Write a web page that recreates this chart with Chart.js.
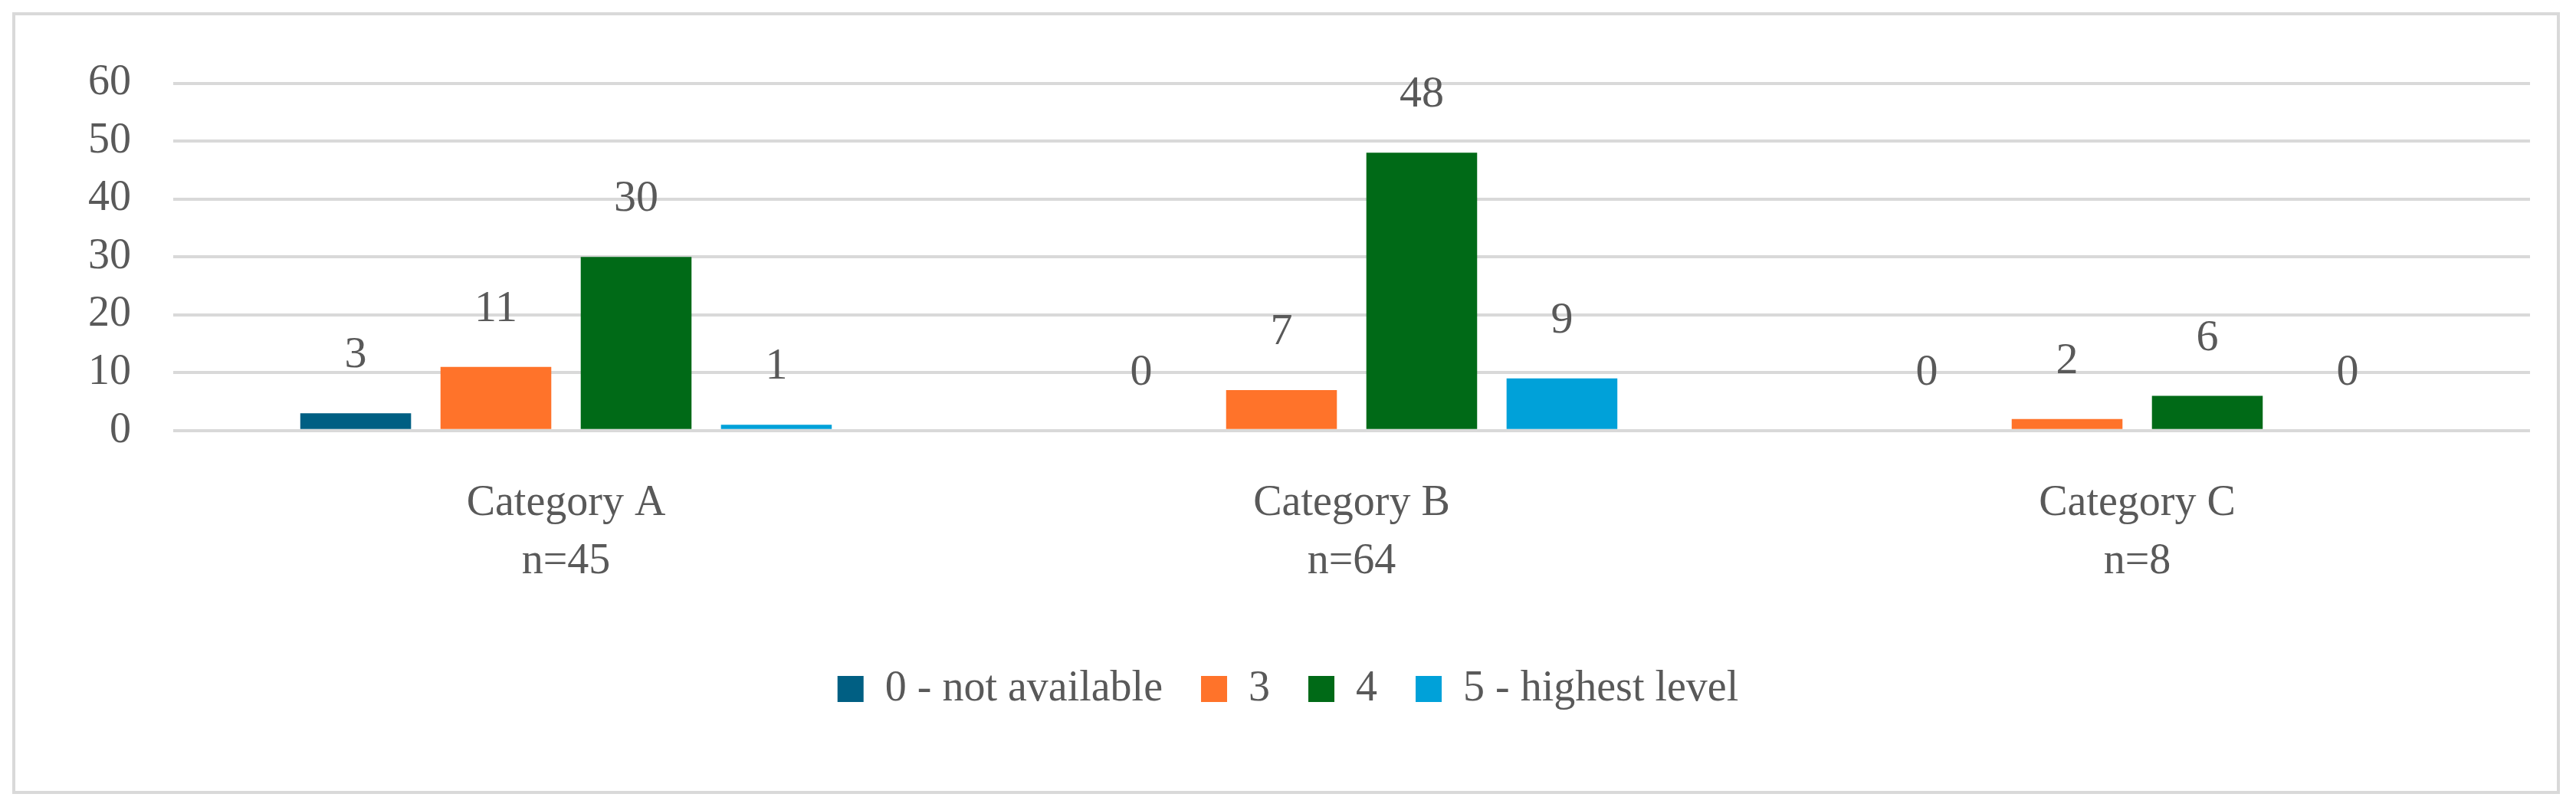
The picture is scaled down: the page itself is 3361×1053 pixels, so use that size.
<!DOCTYPE html>
<html><head><meta charset="utf-8">
<script src="https://cdn.jsdelivr.net/npm/chart.js@4"></script>
<style>
html,body{margin:0;padding:0;background:#fff;width:3361px;height:1053px;overflow:hidden}
#box{position:absolute;left:16px;top:16px;width:3324px;height:1020px;border:4px solid #d9d9d9;box-sizing:border-box}
canvas{position:absolute;left:0;top:0}
</style></head><body>
<div id="box"><canvas id="c" width="3316" height="1012"></canvas></div>
<script>
const categories = [["Category A","n=45"],["Category B","n=64"],["Category C","n=8"]];
const seriesNames = ["0 - not available","3","4","5 - highest level"];
const notAvailable = [3,0,0];
const level3 = [11,7,2];
const level4 = [30,48,6];
const level5 = [1,9,0];
const colors = ["#005F83","#FF732A","#006A17","#00A1D9"];
const yTicks = [0,10,20,30,40,50,60];
const FONT = '"Liberation Serif", serif';

const labelPlugin = {
  id:'vals',
  afterDatasetsDraw(chart){
    const ctx = chart.ctx;
    ctx.save();
    ctx.font = '58px ' + FONT;
    ctx.fillStyle = '#595959';
    ctx.textAlign = 'center';
    ctx.textBaseline = 'middle';
    chart.data.datasets.forEach((ds,i)=>{
      chart.getDatasetMeta(i).data.forEach((bar,j)=>{
        ctx.fillText(String(ds.data[j]), bar.x, bar.y - 75);
      });
    });
    ctx.restore();
  }
};

const data = [notAvailable, level3, level4, level5];
new Chart(document.getElementById('c'),{
  type:'bar',
  data:{labels:categories,datasets:seriesNames.map((n,i)=>({label:n,data:data[i],backgroundColor:colors[i],categoryPercentage:0.714,barPercentage:0.79}))},
  options:{
    responsive:false,animation:false,
    layout:{padding:{left:40,right:35,top:68,bottom:95}},
    plugins:{
      legend:{position:'bottom',labels:{boxWidth:34,boxHeight:34,padding:50,color:'#595959',font:{size:56,family:FONT}}},
      tooltip:{enabled:false}
    },
    scales:{
      x:{grid:{display:false},border:{display:false},ticks:{color:'#595959',padding:50,font:{size:56,family:FONT,lineHeight:1.35}}},
      y:{min:0,max:60,afterBuildTicks(a){a.ticks=yTicks.map(v=>({value:v}));},
         grid:{color:'#d9d9d9',lineWidth:4,drawTicks:false},border:{display:false},
         ticks:{color:'#595959',padding:55,font:{size:56,family:FONT}}}
    }
  },
  plugins:[labelPlugin]
});
</script></body></html>
